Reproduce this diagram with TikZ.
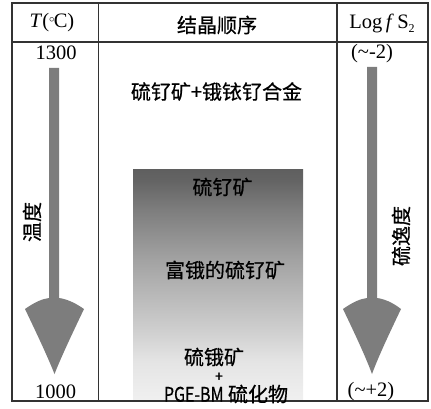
\documentclass[tikz,border=0pt]{standalone}
\usepackage{fontspec}
\setmainfont{Liberation Serif}
\newfontfamily\cjk{Noto Sans CJK SC}[FakeBold=0.6]
\definecolor{g0}{HTML}{F0F0F0}
\definecolor{g1}{HTML}{E4E4E4}
\definecolor{g2}{HTML}{CFCFCF}
\definecolor{g3}{HTML}{A2A2A2}
\definecolor{g4}{HTML}{7E7E7E}
\definecolor{g5}{HTML}{646464}
\definecolor{g6}{HTML}{5F5F5F}
\definecolor{arrowgray}{HTML}{7D7D7D}
\definecolor{linegray}{HTML}{333333}
\pgfdeclareverticalshading{boxshade}{100bp}{color(0bp)=(g0); color(25bp)=(g0); color(33.5bp)=(g1); color(40bp)=(g2); color(55.5bp)=(g3); color(66bp)=(g4); color(72.5bp)=(g5); color(75bp)=(g6); color(100bp)=(g6)}
\newcommand\mydegc{\raisebox{0.6ex}{\fontsize{11}{11}\selectfont$\circ$}\kern-0.8pt C}
\tikzset{
  serif/.style={inner sep=0pt, font=\fontsize{20.5}{22}\selectfont},
  cjktext/.style={inner sep=0pt, font=\fontsize{20}{22}\selectfont\cjk},
  tableline/.style={draw=linegray, line width=1.6pt},
  bigarrow/.style={fill=arrowgray, draw=none}
}
\begin{document}
\begin{tikzpicture}[x=1pt,y=-1pt]
\useasboundingbox (0,0) rectangle (431,409);
% gradient box
\shade[shading=boxshade] (133,169) rectangle (303,400);
% table
\draw[tableline] (12,3) rectangle (428,401);
\draw[tableline] (12,42) -- (428,42);
\draw[tableline] (98.5,3) -- (98.5,401);
\draw[tableline] (336.7,3) -- (336.7,401);
% headers
\node[serif] (hT) at (52,23) {\textit{T}(\mydegc)};
\node[cjktext] (hseq) at (217,25) {结晶顺序};
\node[serif] (hlog) at (382,23) {Log\,\textit{f}\,S\raisebox{-0.45ex}{\fontsize{12}{12}\selectfont 2}};
% left arrow
\path[bigarrow] (49,68) -- (59,68) -- (59,298)
  .. controls (66,299) and (74,302) .. (84,309)
  .. controls (74,330) and (62,355) .. (54.5,374)
  .. controls (47,355) and (35,330) .. (25,309)
  .. controls (35,302) and (42,299) .. (49,298) -- cycle;
% right arrow
\path[bigarrow] (367,67) -- (377,67) -- (377,298)
  .. controls (384,299) and (392,302) .. (401,309)
  .. controls (391,330) and (379,355) .. (372,374)
  .. controls (365,355) and (353,330) .. (343,309)
  .. controls (353,302) and (360,299) .. (367,298) -- cycle;
% numbers
\node[serif] (t1300) at (56,53) {1300};
\node[serif] (t1000) at (55.5,392) {1000};
\node[serif] (fmin) at (372,54) {(\textasciitilde-2)};
\node[serif] (fplus) at (371,392) {(\textasciitilde+2)};
% vertical labels
\node[cjktext, rotate=90] (temp) at (32,222) {温度};
\node[cjktext, rotate=90] (fug) at (401,236) {硫逸度};
% sequence texts
\node[cjktext] (s1) at (216.5,91.5) {硫钌矿+锇铱钌合金};
\node[cjktext] (s2) at (222.5,187) {硫钌矿};
\node[cjktext] (s3) at (225,270) {富锇的硫钌矿};
\node[cjktext] (s4) at (214,357) {硫锇矿};
\node[cjktext, font=\fontsize{14}{14}\selectfont\cjk] (s5) at (219,377) {+};
\node[cjktext] (s6) at (226,394) {\scalebox{0.8}[1]{PGE-BM} 硫化物};
\end{tikzpicture}
\end{document}
